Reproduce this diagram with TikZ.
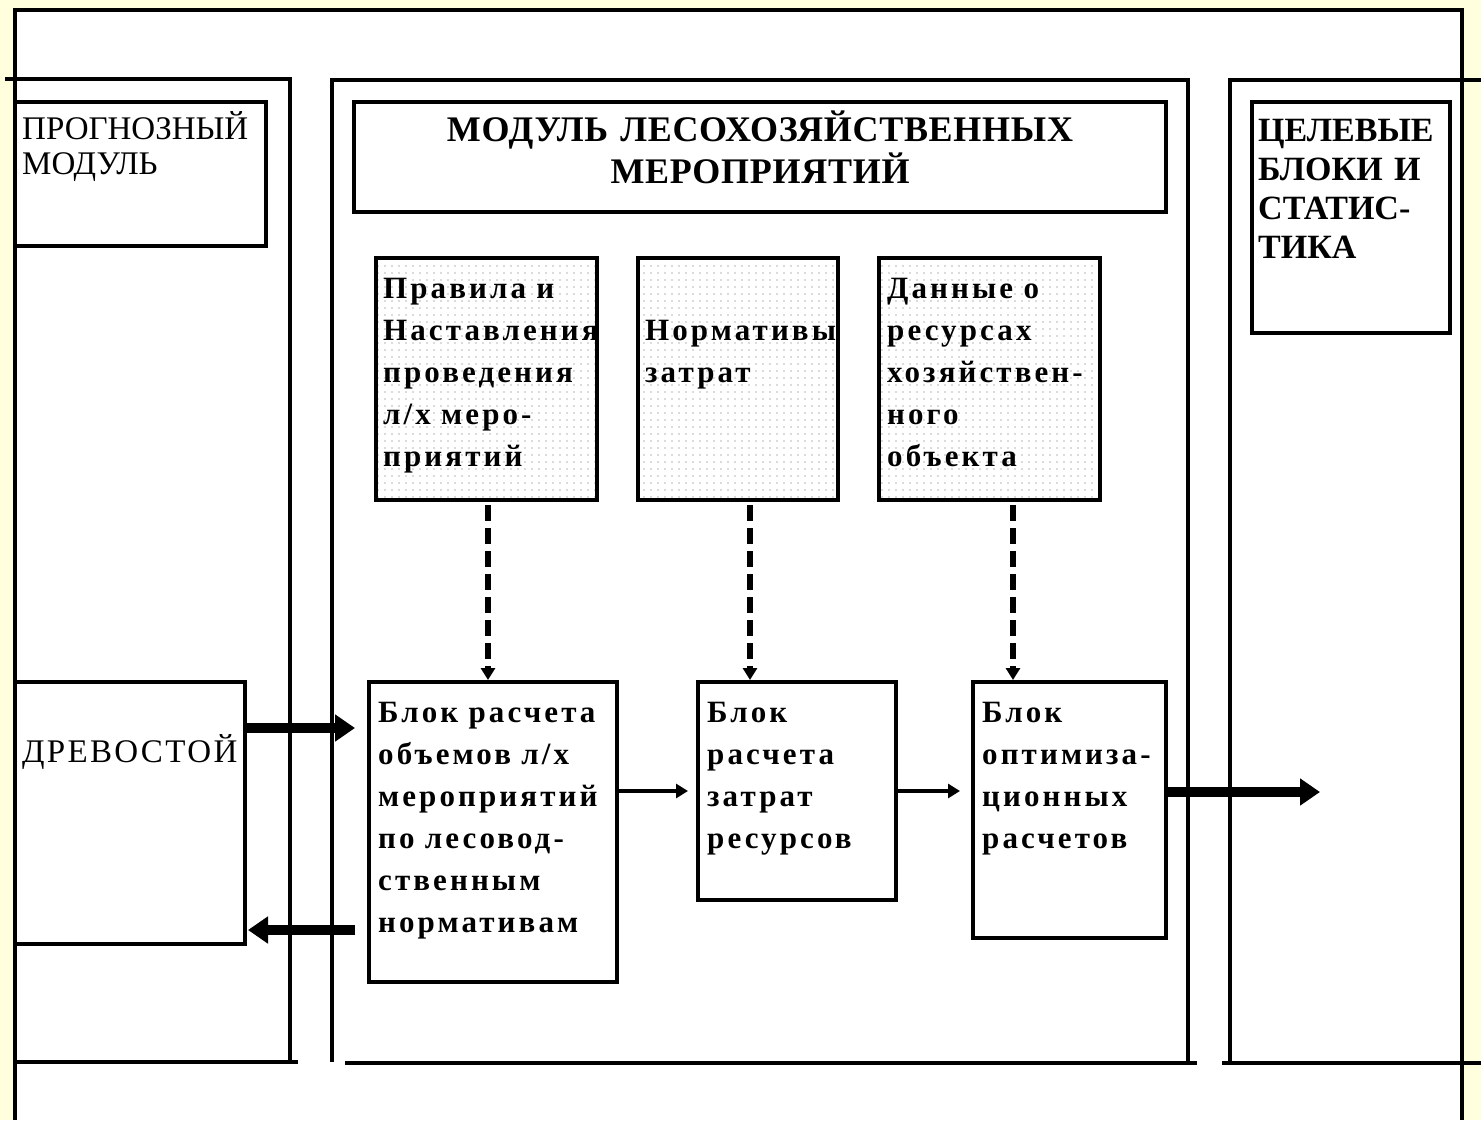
\documentclass[tikz,border=0pt]{standalone}
\usepackage{fontspec}
\setmainfont{Liberation Serif}
\usetikzlibrary{arrows.meta,patterns.meta,calc}
\definecolor{bgyellow}{RGB}{255,255,221}
\begin{document}
\begin{tikzpicture}[x=1pt,y=-1pt,
  frame/.style={line width=4.5pt},
  box/.style={draw,line width=4.5pt,rectangle,inner sep=0pt,outer sep=0pt,anchor=north west},
  dotbox/.style={box,pattern={Dots[distance=7pt,radius=0.7pt]},pattern color=black!60},
  bodytxt/.style={font=\fontsize{31}{42}\selectfont\bfseries\addfontfeature{LetterSpace=10},
    text width=400pt,align=left,inner sep=0pt,anchor=base west},
  regtxt/.style={font=\fontsize{33}{35}\selectfont,inner sep=0pt,anchor=base west},
  thickarrow/.style={line width=10pt,-{Triangle[length=20pt,width=26pt]}},
  thinarrow/.style={line width=4.5pt,-{Triangle[length=12pt,width=14pt]}},
  dasharrow/.style={line width=6.5pt,dash pattern=on 16pt off 7pt,-{Triangle[length=12pt,width=14pt]}}
]
\useasboundingbox (0,0) rectangle (1481,1120);
\fill[bgyellow] (0,0) rectangle (1481,1120);
\fill[white] (15,10) rectangle (1462,1120);

% outer border
\draw[frame] (15,1120) -- (15,10) -- (1462,10) -- (1462,1120);
% left module frame
\draw[frame] (5,79) -- (290,79) -- (290,1062);
\draw[frame] (15,1062) -- (298,1062);
% middle module frame
\draw[frame] (332,1062) -- (332,80) -- (1188,80) -- (1188,1062);
\draw[frame] (345,1063) -- (1197,1063);
% right module frame
\draw[frame] (1230,1062) -- (1230,80) -- (1481,80);
\draw[frame] (1222,1063) -- (1481,1063);

% top boxes
\node[box,minimum width=251pt,minimum height=144pt] (prog) at (15,102) {};
\node[regtxt,text width=300pt,align=left,anchor=base west] (progt) at (22,139) {ПРОГНОЗНЫЙ\\МОДУЛЬ};

\node[box,minimum width=812pt,minimum height=110pt] (title) at (354,102) {};
\node[font=\fontsize{36}{42}\selectfont\bfseries\addfontfeature{LetterSpace=2},text width=800pt,align=center,inner sep=0pt,anchor=base] (titlet) at (760,141) {МОДУЛЬ ЛЕСОХОЗЯЙСТВЕННЫХ\\МЕРОПРИЯТИЙ};

\node[box,minimum width=198pt,minimum height=231pt] (target) at (1252,102) {};
\node[font=\fontsize{34}{39}\selectfont\bfseries,text width=190pt,align=left,inner sep=0pt,anchor=base west] (targett) at (1258,141) {ЦЕЛЕВЫЕ\\БЛОКИ И\\СТАТИС-\\ТИКА};

% dotted boxes
\node[dotbox,minimum width=221pt,minimum height=242pt] (d1) at (376,258) {};
\node[dotbox,minimum width=200pt,minimum height=242pt] (d2) at (638,258) {};
\node[dotbox,minimum width=221pt,minimum height=242pt] (d3) at (879,258) {};
\node[bodytxt] (d1t) at (383,298) {Правила и\\Наставления\\проведения\\л/х меро-\\приятий};
\node[bodytxt] (d2t) at (645,340) {Нормативы\\затрат};
\node[bodytxt] (d3t) at (887,298) {Данные о\\ресурсах\\хозяйствен-\\ного\\объекта};

% lower boxes
\node[box,minimum width=230pt,minimum height=262pt] (drev) at (15,682) {};
\node[regtxt,font=\fontsize{33}{35}\selectfont\addfontfeature{LetterSpace=7}] (drevt) at (22,762) {ДРЕВОСТОЙ};

\node[box,minimum width=248pt,minimum height=300pt] (b1) at (369,682) {};
\node[box,minimum width=198pt,minimum height=218pt] (b2) at (698,682) {};
\node[box,minimum width=193pt,minimum height=256pt] (b3) at (973,682) {};
\node[bodytxt] (b1t) at (378,722) {Блок расчета\\объемов л/х\\мероприятий\\по лесовод-\\ственным\\нормативам};
\node[bodytxt] (b2t) at (707,722) {Блок\\расчета\\затрат\\ресурсов};
\node[bodytxt] (b3t) at (982,722) {Блок\\оптимиза-\\ционных\\расчетов};

% dashed arrows
\coordinate (s1) at ($(d1.south)+(1.5,0)$);
\coordinate (s2) at ($(d2.south)+(12,0)$);
\coordinate (s3) at ($(d3.south)+(23.5,0)$);
\draw[dasharrow,shorten <=5pt,shorten >=2pt] (s1) -- (s1 |- b1.north);
\draw[dasharrow,shorten <=5pt,shorten >=2pt] (s2) -- (s2 |- b2.north);
\draw[dasharrow,shorten <=5pt,shorten >=2pt] (s3) -- (s3 |- b3.north);

% solid arrows
\coordinate (a1) at ($(drev.north east)+(0,46)$);
\draw[thickarrow,shorten >=14pt] (a1) -- (b1.west |- a1);
\coordinate (a2) at ($(drev.north east)+(0,248)$);
\draw[thickarrow,shorten <=14pt,shorten >=3pt] (b1.west |- a2) -- (a2);
\draw[thinarrow,shorten >=10pt] (b1.east |- b2.west) -- (b2.west);
\draw[thinarrow,shorten >=13pt] (b2.east) -- (b3.west |- b2.east);
\coordinate (out) at (1320,792);
\draw[thickarrow] (b3.east |- out) -- (out);
\end{tikzpicture}
\end{document}
